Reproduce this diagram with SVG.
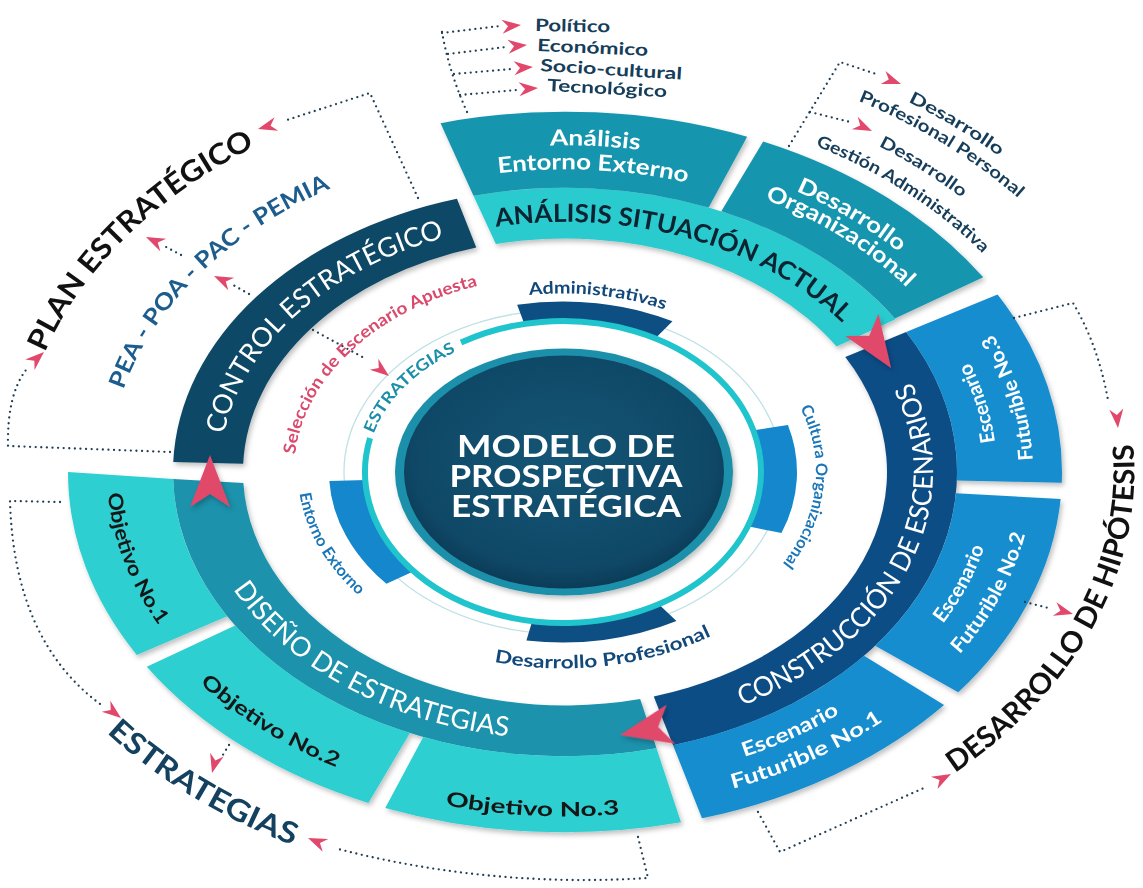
<svg xmlns="http://www.w3.org/2000/svg" width="1143" height="888" viewBox="0 0 1143 888">
<defs>
<style>
text{font-family:Lato,"Open Sans","Liberation Sans",sans-serif;}
.d{fill:none;stroke:#203e54;stroke-width:2.3;stroke-linecap:round;stroke-dasharray:0 5.6}
.ar{fill:#e1486b}
.bt{font-size:27px;fill:#fff;font-weight:400}
.bx{font-size:22px;fill:#fff;font-weight:700}
.es{font-size:20px;fill:#fff;font-weight:700}
.ob{font-size:20px;fill:#161616;font-weight:700}
.ol{font-size:29px;font-weight:700}
.lb{font-size:17px;font-weight:700}
.tl{font-size:17px;font-weight:700;fill:#163d5a}
</style>
<filter id="sh" x="-10%" y="-10%" width="125%" height="130%"><feDropShadow dx="2" dy="3" stdDeviation="2.5" flood-color="#000" flood-opacity="0.25"/></filter>
<radialGradient id="cg" cx="50%" cy="45%" r="55%"><stop offset="0" stop-color="#155575"/><stop offset="0.85" stop-color="#0f4867"/><stop offset="1" stop-color="#0b3c57"/></radialGradient>
<path id="sa" d="M0,0 L-19,-7 L-13,0 L-19,7 Z"/>
<path id="ba" d="M0,0 L-52,-20 L-39,0 L-52,20 Z"/>
<path id="p_control" d="M223.97,434.17 A345,250.13 0 0 1 617.18,224.75"/>
<path id="p_analisis" d="M496.22,226.90 A345,250.13 0 0 1 903.07,422.13"/>
<path id="p_constr" d="M742.28,705.80 A368,266.8 0 0 0 851.83,304.82"/>
<path id="p_diseno" d="M233.35,589.26 A369,267.5 0 0 0 726.76,712.43"/>
<path id="p_aee1" d="M550.06,145.47 A450.6,326.7 0 0 1 843.05,214.91"/>
<path id="p_aee2" d="M498.25,173.19 A417.5,302.7 0 0 1 837.80,242.86"/>
<path id="p_dor1" d="M795.93,191.14 A451,326.98 0 0 1 1010.20,419.72"/>
<path id="p_dor2" d="M765.0,199.30 A426,308.85 0 0 1 981.69,407.79"/>
<path id="p_e3a" d="M995.01,441.98 A432,313.2 0 0 0 867.79,248.61"/>
<path id="p_e3b" d="M1032.71,460.16 A468,339.3 0 0 0 912.79,244.96"/>
<path id="p_e2a" d="M942.84,623.84 A432,313.2 0 0 0 989.06,412.24"/>
<path id="p_e2b" d="M959.71,654.31 A468,339.3 0 0 0 1028.99,427.71"/>
<path id="p_e1a" d="M744.15,757.0 A432,313.2 0 0 0 954.92,606.84"/>
<path id="p_e1b" d="M732.72,788.76 A468,339.3 0 0 0 974.32,636.5"/>
<path id="p_o1" d="M107.95,493.43 A458,332.05 0 0 0 362.07,769.68"/>
<path id="p_o2" d="M200.03,683.23 A467,338.58 0 0 0 634.84,806.77"/>
<path id="p_o3" d="M445.27,805.26 A475,344.38 0 0 0 903.21,713.81"/>
<path id="p_plan" d="M45.03,352.41 A545.5,395.49 0 0 1 447.86,85.74"/>
<path id="p_hip" d="M954.85,772.98 A569.5,412.89 0 0 0 1088.45,309.35"/>
<path id="p_estr" d="M106.70,732.66 A582.5,422.31 0 0 0 647.07,890.10"/>
<path id="p_pea" d="M123.33,389.78 A456,330.6 0 0 1 442.37,153.58"/>
<path id="p_sel" d="M295.07,454.54 A269,196.37 0 0 1 586.91,276.41"/>
<path id="p_ein" d="M373.65,433.66 A196.5,143.45 0 0 1 615.51,333.77"/>
<path id="p_adm" d="M529.38,295.13 A244.6,178.56 0 0 1 756.01,362.31"/>
<path id="p_cul" d="M800.28,407.92 A253,184.69 0 0 1 690.65,631.46"/>
<path id="p_dpro" d="M494.28,661.85 A269,196.37 0 0 0 807.19,554.37"/>
<path id="p_ent" d="M299.65,493.56 A265,193.45 0 0 0 546.36,665.07"/>
<path id="p_g1a" d="M908.02,101.92 A615,445.88 0 0 1 1155.88,348.35"/>
<path id="p_g1b" d="M858.21,100.81 A590,427.75 0 0 1 1145.68,396.25"/>
<path id="p_g2a" d="M878.54,146.15 A548,397.3 0 0 1 1094.08,368.50"/>
<path id="p_g2b" d="M815.47,145.75 A515,373.38 0 0 1 1070.71,401.39"/>
</defs>
<rect width="1143" height="888" fill="#fff"/>

<g id="control" filter="url(#sh)">
<path fill="#0f4866" d="M173.24,462.08 A392,284.2 0 0 1 456.95,198.81 L476.24,247.59 A322,233.45 0 0 0 243.20,463.85 Z"/>
</g>
<g id="analisis" filter="url(#sh)">
<path fill="#2bcbcf" d="M473.49,195.65 A392,284.2 0 0 1 895.61,319.30 L836.57,346.57 A322,233.45 0 0 0 495.85,244.00 Z"/>
<path fill="#1896ae" d="M440.56,123.15 A497,360.33 0 0 1 747.15,136.74 L708.67,207.57 A392,284.2 0 0 0 473.49,195.65 Z"/>
<path fill="#1896ae" d="M763.18,141.56 A497,360.33 0 0 1 983.23,277.34 L894.87,318.46 A392,284.2 0 0 0 721.31,211.37 Z"/>
</g>
<g id="construccion" filter="url(#sh)">
<path fill="#0c4e86" d="M906.18,332.05 A392,284.2 0 0 1 673.05,745.19 L653.76,696.41 A322,233.45 0 0 0 845.26,357.04 Z"/>
<path fill="#168dce" d="M997.57,294.57 A497,360.33 0 0 1 1061.78,482.69 L956.83,480.43 A392,284.2 0 0 0 906.18,332.05 Z"/>
<path fill="#168dce" d="M1060.60,499.02 A497,360.33 0 0 1 958.24,692.35 L875.16,645.80 A392,284.2 0 0 0 955.90,493.31 Z"/>
<path fill="#168dce" d="M944.05,705.06 A497,360.33 0 0 1 701.99,818.37 L673.05,745.19 A392,284.2 0 0 0 863.97,655.82 Z"/>
</g>
<g id="diseno" filter="url(#sh)">
<path fill="#1a92ac" d="M656.51,748.35 A392,284.2 0 0 1 173.12,478.94 L243.36,483.00 A322,233.45 0 0 0 640.17,699.00 Z"/>
<path fill="#2dcfd1" d="M681.02,822.37 A497,360.33 0 0 1 385.27,807.94 L423.24,736.97 A392,284.2 0 0 0 656.51,748.35 Z"/>
<path fill="#2dcfd1" d="M368.41,802.95 A497,360.33 0 0 1 146.77,666.66 L235.13,625.54 A392,284.2 0 0 0 409.94,733.02 Z"/>
<path fill="#2dcfd1" d="M136.77,654.88 A497,360.33 0 0 1 68,472 L173.12,478.94 A392,284.2 0 0 0 227.24,616.24 Z"/>
</g>

<g id="flow-arrows" filter="url(#sh)">
<use href="#ba" class="ar" transform="translate(891,368) rotate(56)"/>
<use href="#ba" class="ar" transform="translate(620,735) rotate(168)"/>
<use href="#ba" class="ar" transform="translate(210,455) rotate(-90)"/>
</g>

<g id="inner-rings">
<ellipse cx="563" cy="472" rx="219" ry="162" fill="none" stroke="#bfe2e6" stroke-width="1.3"/>
<path fill="#0e4f83" d="M517.15,304.81 A234,170.5 0 0 1 672.50,321.32 L655.18,338.55 A197,151 0 0 0 524.40,323.93 Z"/>
<path fill="#1587cc" d="M787.93,425.00 A234,170.5 0 0 1 781.46,533.10 L746.92,526.11 A197,151 0 0 0 752.37,430.38 Z"/>
<path fill="#0e4f83" d="M676.45,621.12 A234,170.5 0 0 1 526.40,640.40 L532.18,621.14 A197,151 0 0 0 658.51,604.07 Z"/>
<path fill="#1587cc" d="M386.40,583.86 A234,170.5 0 0 1 329.32,480.92 L366.27,479.90 A197,151 0 0 0 414.32,571.07 Z"/>
<path fill="none" stroke="#20c4cc" stroke-width="6" d="M461.02,342.57 A198,151 0 1 1 370.07,438.03"/>
</g>

<g id="center">
<ellipse cx="564" cy="472" rx="169" ry="123.5" fill="#1b90aa" filter="url(#sh)"/>
<ellipse cx="564" cy="472" rx="160" ry="116.5" fill="url(#cg)"/>
<g font-size="31" font-weight="700" fill="#fff" text-anchor="middle">
<text x="566" y="457" textLength="218" lengthAdjust="spacingAndGlyphs">MODELO DE</text>
<text x="566" y="487" textLength="233" lengthAdjust="spacingAndGlyphs">PROSPECTIVA</text>
<text x="566" y="517" textLength="230" lengthAdjust="spacingAndGlyphs">ESTRATÉGICA</text>
</g>
</g>

<g id="band-labels">
<text class="bt"><textPath href="#p_control" textLength="310" lengthAdjust="spacingAndGlyphs">CONTROL ESTRATÉGICO</textPath></text>
<text class="bt" style="fill:#0c2331;font-weight:700;font-size:25px"><textPath href="#p_analisis" textLength="371" lengthAdjust="spacingAndGlyphs">ANÁLISIS SITUACIÓN ACTUAL</textPath></text>
<text class="bt"><textPath href="#p_constr" textLength="414" lengthAdjust="spacingAndGlyphs">CONSTRUCCIÓN DE ESCENARIOS</textPath></text>
<text class="bt"><textPath href="#p_diseno" textLength="321" lengthAdjust="spacingAndGlyphs">DISEÑO DE ESTRATEGIAS</textPath></text>
</g>

<g id="box-labels">
<text class="bx"><textPath href="#p_aee1" textLength="90" lengthAdjust="spacingAndGlyphs">Análisis</textPath></text>
<text class="bx"><textPath href="#p_aee2" textLength="190" lengthAdjust="spacingAndGlyphs">Entorno Externo</textPath></text>
<text class="bx"><textPath href="#p_dor1" textLength="120" lengthAdjust="spacingAndGlyphs">Desarrollo</textPath></text>
<text class="bx"><textPath href="#p_dor2" textLength="168" lengthAdjust="spacingAndGlyphs">Organizacional</textPath></text>
<text class="es"><textPath href="#p_e3a" textLength="84" lengthAdjust="spacingAndGlyphs">Escenario</textPath></text>
<text class="es"><textPath href="#p_e3b" textLength="134" lengthAdjust="spacingAndGlyphs">Futurible No.3</textPath></text>
<text class="es"><textPath href="#p_e2a" textLength="87" lengthAdjust="spacingAndGlyphs">Escenario</textPath></text>
<text class="es"><textPath href="#p_e2b" textLength="138" lengthAdjust="spacingAndGlyphs">Futurible No.2</textPath></text>
<text class="es"><textPath href="#p_e1a" textLength="105" lengthAdjust="spacingAndGlyphs">Escenario</textPath></text>
<text class="es"><textPath href="#p_e1b" textLength="166" lengthAdjust="spacingAndGlyphs">Futurible No.1</textPath></text>
<text class="ob"><textPath href="#p_o1" textLength="143" lengthAdjust="spacingAndGlyphs">Objetivo No.1</textPath></text>
<text class="ob"><textPath href="#p_o2" textLength="161" lengthAdjust="spacingAndGlyphs">Objetivo No.2</textPath></text>
<text class="ob"><textPath href="#p_o3" textLength="175" lengthAdjust="spacingAndGlyphs">Objetivo No.3</textPath></text>
</g>

<g id="ring-labels">
<text style="font-size:16px;font-weight:700;fill:#1b8ea9"><textPath href="#p_ein" textLength="119" lengthAdjust="spacingAndGlyphs">ESTRATEGIAS</textPath></text>
<text class="lb" style="fill:#d94a6c"><textPath href="#p_sel" textLength="264" lengthAdjust="spacingAndGlyphs">Selección de Escenario Apuesta</textPath></text>
<text class="lb" style="fill:#12497a"><textPath href="#p_adm" textLength="137" lengthAdjust="spacingAndGlyphs">Administrativas</textPath></text>
<text class="lb" style="fill:#1a76b8;font-size:16px"><textPath href="#p_cul" textLength="166" lengthAdjust="spacingAndGlyphs">Cultura Organizacional</textPath></text>
<text class="lb" style="fill:#12497a;font-size:18px"><textPath href="#p_dpro" textLength="222" lengthAdjust="spacingAndGlyphs">Desarrollo Profesional</textPath></text>
<text class="lb" style="fill:#1a76b8;font-size:16px"><textPath href="#p_ent" textLength="120" lengthAdjust="spacingAndGlyphs">Entorno Extorno</textPath></text>
</g>

<g id="outer-labels">
<text class="ol" style="fill:#111"><textPath href="#p_plan" textLength="300" lengthAdjust="spacingAndGlyphs">PLAN ESTRATÉGICO</textPath></text>
<text class="ol" style="fill:#111"><textPath href="#p_hip" textLength="393" lengthAdjust="spacingAndGlyphs">DESARROLLO DE HIPÓTESIS</textPath></text>
<text class="ol" style="fill:#14415f;font-size:30px"><textPath href="#p_estr" textLength="219" lengthAdjust="spacingAndGlyphs">ESTRATEGIAS</textPath></text>
<text style="font-size:23px;font-weight:700;fill:#1d5d8e"><textPath href="#p_pea" textLength="297" lengthAdjust="spacingAndGlyphs">PEA - POA - PAC - PEMIA</textPath></text>
<text class="tl"><textPath href="#p_g1a" textLength="106" lengthAdjust="spacingAndGlyphs">Desarrollo</textPath></text>
<text class="tl"><textPath href="#p_g1b" textLength="188" lengthAdjust="spacingAndGlyphs">Profesional Personal</textPath></text>
<text class="tl"><textPath href="#p_g2a" textLength="98" lengthAdjust="spacingAndGlyphs">Desarrollo</textPath></text>
<text class="tl"><textPath href="#p_g2b" textLength="200" lengthAdjust="spacingAndGlyphs">Gestión Administrativa</textPath></text>
<text class="tl" x="535" y="31" transform="rotate(1 535 31)" textLength="75" lengthAdjust="spacingAndGlyphs">Político</text>
<text class="tl" x="537" y="51" transform="rotate(2.5 537 51)" textLength="111" lengthAdjust="spacingAndGlyphs">Económico</text>
<text class="tl" x="540" y="71" transform="rotate(3.5 540 71)" textLength="142" lengthAdjust="spacingAndGlyphs">Socio-cultural</text>
<text class="tl" x="547" y="91" transform="rotate(3 547 91)" textLength="120" lengthAdjust="spacingAndGlyphs">Tecnológico</text>
</g>

<g id="connectors">
<path class="d" d="M467,112 Q449,72 442,32"/>
<path class="d" d="M442,33 L500,26"/>
<path class="d" d="M448,54 L506,47"/>
<path class="d" d="M454,74 L512,69"/>
<path class="d" d="M460,95 L517,90"/>
<use href="#sa" class="ar" transform="translate(521,25) rotate(-5)"/>
<use href="#sa" class="ar" transform="translate(527,45) rotate(-5)"/>
<use href="#sa" class="ar" transform="translate(533,67) rotate(-4)"/>
<use href="#sa" class="ar" transform="translate(538,88) rotate(-4)"/>
<path class="d" d="M789,146 L840,62 L876,74"/>
<path class="d" d="M810,112 L850,122"/>
<use href="#sa" class="ar" transform="translate(901,84) rotate(20)"/>
<use href="#sa" class="ar" transform="translate(872,131) rotate(25)"/>
<path class="d" d="M1014,318 L1073,303 Q1098,345 1108,400"/>
<use href="#sa" class="ar" transform="translate(1118,428) rotate(85)"/>
<path class="d" d="M1025,602 L1052,609"/>
<use href="#sa" class="ar" transform="translate(1073,614) rotate(15)"/>
<path class="d" d="M758,812 L780,852 L924,788"/>
<use href="#sa" class="ar" transform="translate(951,774) rotate(-28)"/>
<path class="d" d="M638,837 L648,878 Q490,888 338,849"/>
<use href="#sa" class="ar" transform="translate(308,838) rotate(203)"/>
<path class="d" d="M229,745 L221,758"/>
<use href="#sa" class="ar" transform="translate(212,773) rotate(105)"/>
<path class="d" d="M60,502 L10,501 Q14,640 100,704"/>
<use href="#sa" class="ar" transform="translate(121,718) rotate(38)"/>
<path class="d" d="M170,452 L8,446 Q7,395 26,370"/>
<use href="#sa" class="ar" transform="translate(44,352) rotate(-42)"/>
<path class="d" d="M418,198 L370,93 L284,121"/>
<use href="#sa" class="ar" transform="translate(258,129) rotate(165)"/>
<path class="d" d="M249,294 L233,285"/>
<use href="#sa" class="ar" transform="translate(214,276) rotate(205)"/>
<path class="d" d="M181,255 L166,247"/>
<use href="#sa" class="ar" transform="translate(146,237) rotate(205)"/>
<path class="d" d="M313,330 L366,359"/>
<use href="#sa" class="ar" transform="translate(389,376) rotate(38)"/>
</g>
</svg>
